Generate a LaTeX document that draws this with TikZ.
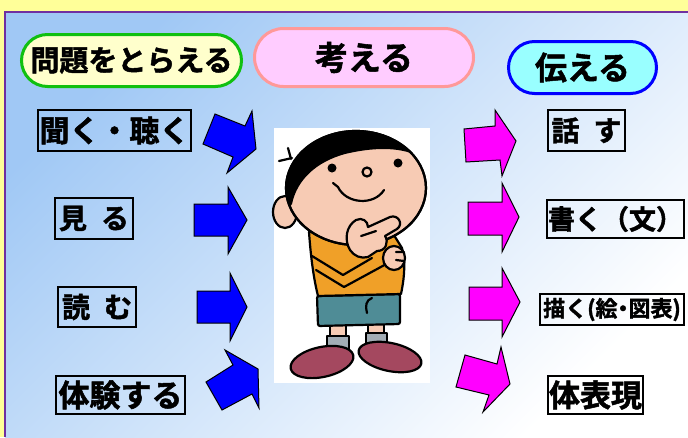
\documentclass[tikz,border=0pt]{standalone}
\usepackage{fontspec}
\setmainfont{Noto Sans CJK JP}[BoldFont={Noto Sans CJK JP Bold}, BoldFeatures={FakeBold=1.6}]
\usetikzlibrary{shapes.misc}

\definecolor{frame yellow}{HTML}{FFFF99}
\definecolor{frame purple}{HTML}{7030A0}
\definecolor{sky top}{HTML}{A0C8F5}
\definecolor{pill green}{HTML}{10C010}
\definecolor{pill yellow}{HTML}{FFFFCC}
\definecolor{pill rose}{HTML}{FF9999}
\definecolor{pill pink}{HTML}{FFCCFF}
\definecolor{pill blue}{HTML}{0000FF}
\definecolor{pill cyan}{HTML}{99FFFF}
\definecolor{arrow in color}{HTML}{0000FF}
\definecolor{arrow out color}{HTML}{FF00FF}
\definecolor{skin}{HTML}{F7CBB4}
\definecolor{shirt}{HTML}{F0A028}
\definecolor{shorts}{HTML}{4F8C96}
\definecolor{sock}{HTML}{A3ADB5}
\definecolor{shoe}{HTML}{A4485F}

\newcommand{\jpsize}[1]{\fontsize{#1}{#1}\selectfont}

\tikzset{
    x={1pt},
    y={-1pt},
    title pill/.style 2 args={
        rounded rectangle,
        draw={#1}, fill={#2},
        line width={3pt},
        inner sep=0pt,
        font=\bfseries\jpsize{28},
    },
    word box/.style={
        draw=black,
        line width={1.8pt},
        inner sep=0pt,
    },
    in arrow/.style={
        fill=arrow in color, draw=black,
        line width={1pt},
    },
    out arrow/.style={
        fill=arrow out color, draw=black,
        line width={1pt},
    },
    outline/.style={
        draw=black,
        line width={2.2pt},
        line join=round, line cap=round,
    },
}

\begin{document}
\begin{tikzpicture}
\useasboundingbox (0,0) rectangle (688,437);
% frame and background
\fill[frame yellow] (0,0) rectangle (688,437);
\shade[top color=sky top, bottom color=white, shading angle=45] (5,12) rectangle (688,437);
\draw[frame purple, line width={2pt}] (5,437) -- (5,12) -- (688,12);
% headings
\node[title pill={pill green}{pill yellow}, minimum width=220, minimum height=52, font=\bfseries\jpsize{29}] (problem) at (131.5,60.5) {問題をとらえる};
\node[title pill={pill rose}{pill pink}, minimum width=219, minimum height=58, font=\bfseries\jpsize{33}] (think) at (364,57.5) {考える};
\node[title pill={pill blue}{pill cyan}, minimum width=148, minimum height=52, font=\bfseries\jpsize{32}] (tell) at (582.5,67.5) {伝える};
% input words
\node[word box, minimum width=153, minimum height=41, font=\bfseries\jpsize{30}] (hear) at (114.5,130.5) {聞く・聴く};
\node[word box, minimum width=78, minimum height=41, font=\bfseries\jpsize{28}] (see) at (94,218.5) {見\hspace{0.5em}る};
\node[word box, minimum width=78, minimum height=40, font=\bfseries\jpsize{28}] (read) at (97,307) {読\hspace{0.5em}む};
\node[word box, minimum width=129, minimum height=38, font=\bfseries\jpsize{31}] (experience) at (120.5,395) {体験する};
% output words
\node[word box, minimum width=77, minimum height=41, font=\bfseries\jpsize{28}] (talk) at (586.5,130.5) {話\hspace{0.5em}す};
\node[word box, minimum width=137, minimum height=38, font=\bfseries\jpsize{27}] (write) at (615.5,219) {書く（文）};
\node[word box, minimum width=144, minimum height=31, font=\bfseries\jpsize{22}] (drawing) at (612,309.5) {描く(絵\kern-.25em・\kern-.25em図表)};
\node[word box, minimum width=95, minimum height=38, font=\bfseries\jpsize{31}] (express) at (595.5,395) {体表現};
% arrows into the boy
\path[in arrow] (215,114) -- (245,126) -- (252,111) -- (256,149) -- (227,173) -- (233,157) -- (203,144) -- cycle;
\path[in arrow] (194,204) -- (228,204) -- (228,187) -- (247,220) -- (228,254) -- (228,236) -- (194,236) -- cycle;
\path[in arrow] (197,291) -- (230,291) -- (230,273) -- (247,307) -- (230,341) -- (230,323) -- (197,323) -- cycle;
\path[in arrow] (233,365) -- (225,350) -- (258,369) -- (259,408) -- (252,394) -- (222,410) -- (206,382) -- cycle;
% arrows out of the boy
\path[out arrow] (464,129) -- (495,126) -- (495,110) -- (516,141) -- (502,176) -- (500,160) -- (466,162) -- cycle;
\path[out arrow] (468,202) -- (502,202) -- (502,183) -- (519,217) -- (502,252) -- (502,235) -- (468,235) -- cycle;
\path[out arrow] (469,287) -- (502,287) -- (502,268) -- (520,302) -- (502,337) -- (502,320) -- (469,320) -- cycle;
\path[out arrow] (465,355) -- (497,364) -- (501,347) -- (510,384) -- (483,412) -- (489,395) -- (456,387) -- cycle;
% boy
\fill[white] (274,128) rectangle (430,383);
\path[outline, fill=skin] (330,318) rectangle (346,342);
\path[outline, fill=skin] (368,318) rectangle (384,340);
\path[outline, fill=sock] (327,336) rectangle (349,352);
\path[outline, fill=sock] (366,333) rectangle (387,349);
\path[outline, fill=shoe, rotate around={12:(322,362)}] (322,362) ellipse [x radius=32, y radius=15];
\path[outline, fill=shoe, rotate around={-12:(390,357)}] (390,357) ellipse [x radius=32, y radius=14];
\path[outline, fill=shorts, rounded corners=2] (317,296) -- (400,294) -- (400,324) -- (318,326) -- cycle;
\draw[outline] (372,298) .. controls (366,300) and (365,306) .. (367,313);
\path[outline, fill=shirt] (309,232) .. controls (311,260) and (314,280) .. (318,296) -- (401,294) .. controls (404,280) and (406,262) .. (402,248) -- (392,232) -- cycle;
\draw[outline] (312,256) -- (343,275) -- (372,258);
\draw[outline] (316,270) -- (344,287) -- (390,262);
\path[outline, fill=skin] (394,258) ellipse [x radius=11, y radius=12];
\draw[outline] (396,252) -- (404,252) (396,260) -- (404,261);
\path[outline, fill=skin] (285,212) ellipse [x radius=12, y radius=16];
\path[outline, fill=skin] (356,188) ellipse [x radius=70, y radius=57];
\begin{scope}
\clip (356,188) ellipse [x radius=70, y radius=57];
\fill[black] (280,220) -- (292,204) .. controls (297,180) and (316,162) .. (345,154) .. controls (370,148) and (398,146) .. (418,156) -- (430,150) -- (430,120) -- (280,120) -- cycle;
\end{scope}
\draw[outline] (356,188) ellipse [x radius=70, y radius=57];
\draw[outline] (279,161) -- (292,158) (288,148) -- (291,159);
\fill (332,168) circle [radius=4.5];
\fill (398,163) circle [radius=4.5];
\path[outline, fill=skin] (367,172) circle [radius=4.5];
\draw[outline] (333,183) -- (338,187) .. controls (346,204) and (374,206) .. (384,190);
\path[outline, fill=skin] (350,250) .. controls (344,240) and (346,226) .. (356,220) .. controls (362,217) and (368,221) .. (368,227) -- (390,217) .. controls (398,214) and (404,224) .. (397,229) -- (385,236) .. controls (389,242) and (386,251) .. (377,251) -- (368,257) .. controls (361,259) and (354,256) .. cycle;
\draw[outline] (361,236) -- (376,231);
\end{tikzpicture}
\end{document}
